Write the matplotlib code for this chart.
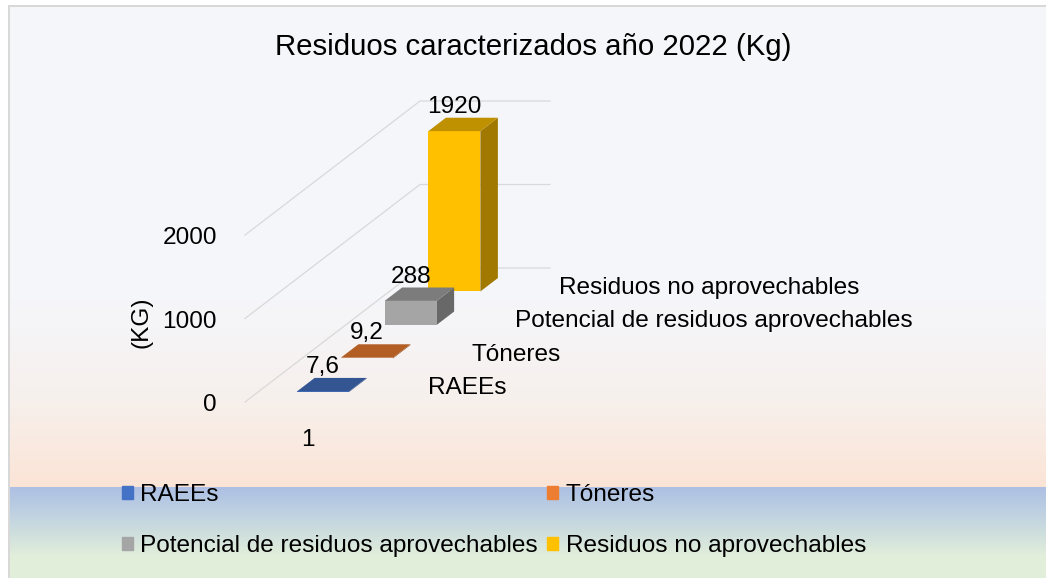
import matplotlib.pyplot as plt
import numpy as np
from matplotlib.patches import Polygon, Patch

# datos
series = ['RAEEs', 'Tóneres', 'Potencial de residuos aprovechables', 'Residuos no aprovechables']
values = [7.6, 9.2, 288, 1920]
colors = ['#4472C4', '#ED7D31', '#A5A5A5', '#FFC000']
categories = ['1']
y_ticks = [0, 1000, 2000]

plt.rcParams['font.family'] = ['Liberation Sans Narrow', 'Liberation Sans', 'DejaVu Sans']
FS = 17.6       # tamaño de texto de ejes y leyenda
FS_TITLE = 21.2

W, H = 1046, 578
fig = plt.figure(figsize=(W / 100, H / 100), dpi=100)

# fondo: degradado del area del grafico y banda de la leyenda
bg = fig.add_axes([0, 0, 1, 1])
bg.axis('off')
stops_y = [0, 300, 400, 486, 487, 520, 555, 578]
stops_c = [(245, 247, 251), (245, 246, 250), (247, 240, 236), (251, 228, 214),
           (173, 192, 228), (196, 214, 224), (225, 238, 218), (226, 239, 217)]
rows = np.arange(H)
grad = np.stack([np.interp(rows, stops_y, [c[i] for c in stops_c]) for i in range(3)], axis=-1) / 255
img = np.repeat(grad[:, None, :], W, axis=1)
img[:5, :] = 1
img[:, :8] = 1
img[5:7, 8:] = 0.85
img[5:, 8:10] = 0.85
bg.imshow(img, extent=(0, W, H, 0), aspect='auto', interpolation='nearest')
bg.set_xlim(0, W)
bg.set_ylim(H, 0)

# ejes "3D" en proyeccion oblicua: x en unidades de categoria, y en kg
ax = fig.add_axes([0, 0, 1, 1])
ax.axis('off')
ax.patch.set_alpha(0)
ORG_X, ORG_Y = 245, 402        # esquina frontal izquierda del piso (px)
CAT_PX = 130                   # ancho del piso (px)
KG_PX = 0.0835                 # px por kg
DX = 43.75 / CAT_PX            # desplazamiento por serie en profundidad
DY = 33.5 / KG_PX
ax.set_xlim(0.5 - ORG_X / CAT_PX, 0.5 + (W - ORG_X) / CAT_PX)
ax.set_ylim(-(H - ORG_Y) / KG_PX, ORG_Y / KG_PX)


def proj(x, d, v):
    return x + d * DX, v + d * DY


def shade(c, f):
    r, g, b = plt.matplotlib.colors.to_rgb(c)
    return (r * f, g * f, b * f)


n = len(series)

# lineas de division en pared lateral y pared del fondo
for v in y_ticks:
    pts = [proj(0.5, 0, v), proj(0.5, n, v), proj(1.5, n, v)]
    ax.plot([p[0] for p in pts], [p[1] for p in pts], color='#D9D9D9', lw=0.9, zorder=1)
    ax.annotate(f'{v}', proj(0.5, 0, v), xytext=(-28, -9), textcoords='offset pixels',
                ha='right', va='baseline', fontsize=FS)

# barras, de atras hacia adelante
x0, x1 = 0.8, 1.2
for k in reversed(range(n)):
    v = values[k]
    d0, d1 = k + 0.3, k + 0.7
    front = [proj(x0, d0, 0), proj(x1, d0, 0), proj(x1, d0, v), proj(x0, d0, v)]
    top = [proj(x0, d0, v), proj(x1, d0, v), proj(x1, d1, v), proj(x0, d1, v)]
    side = [proj(x1, d0, 0), proj(x1, d1, 0), proj(x1, d1, v), proj(x1, d0, v)]
    z = 10 + (n - k) * 3
    ax.add_patch(Polygon(side, closed=True, fc=shade(colors[k], 0.63), ec='none', zorder=z))
    ax.add_patch(Polygon(front, closed=True, fc=colors[k], ec='none', zorder=z + 1))
    ax.add_patch(Polygon(top, closed=True, fc=shade(colors[k], 0.75), ec='none', zorder=z + 2))
    lx = proj(1.0, d0, v)[0]
    ly = proj(1.0, d1, v)[1]
    ax.annotate(f'{v:g}'.replace('.', ','), (lx, ly), xytext=(0, 5), textcoords='offset pixels',
                ha='center', va='baseline', fontsize=FS, zorder=30)
    # etiqueta del eje de profundidad
    ax.annotate(series[k], proj(1.5, k + 0.5, 0), xytext=(31, -9), textcoords='offset pixels',
                ha='left', va='baseline', fontsize=FS)

# eje de categorias
ax.annotate(categories[0], proj(1.0, 0, 0), xytext=(-2, -44), textcoords='offset pixels',
            ha='center', va='baseline', fontsize=FS)

fig.text(141 / W, 1 - 322 / H, '(KG)', rotation=90, ha='center', va='center', fontsize=FS)
fig.text(533 / W, 1 - 47 / H, 'Residuos caracterizados año 2022 (Kg)',
         ha='center', va='center', fontsize=FS_TITLE)

# leyenda (orden por filas)
handles = [Patch(color=c) for c in colors]
order = [0, 2, 1, 3]
ax.legend([handles[i] for i in order], [series[i] for i in order], ncol=2,
          loc='upper left', bbox_to_anchor=(122 / W, 1 - 484 / H), bbox_transform=fig.transFigure,
          frameon=False, fontsize=FS, handlelength=0.45, handleheight=0.45, handletextpad=0.29,
          columnspacing=0.4, labelspacing=1.18, borderpad=0, borderaxespad=0)

fig.savefig('out.png', dpi=100)
